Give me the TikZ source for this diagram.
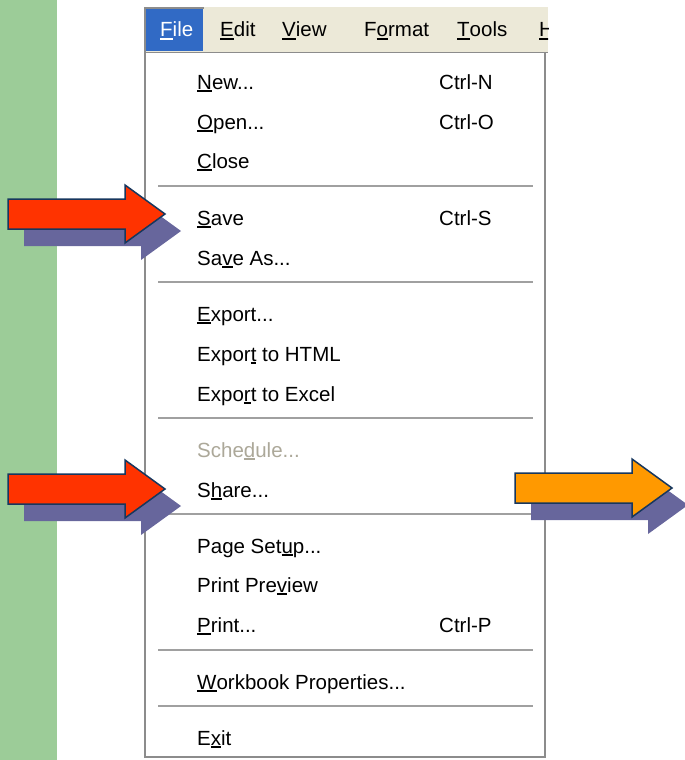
\documentclass[tikz,border=0pt]{standalone}
\usepackage{fontspec}
\setmainfont{Liberation Sans}
\definecolor{stripgreen}{HTML}{9CCC98}
\definecolor{barbeige}{HTML}{ECE9D8}
\definecolor{xpblue}{HTML}{316AC5}
\definecolor{sepgray}{HTML}{A0A0A0}
\definecolor{bordergray}{HTML}{8C8C8C}
\definecolor{shadowcol}{HTML}{67669C}
\definecolor{arrowred}{HTML}{FF3300}
\definecolor{arroworange}{HTML}{FF9900}
\definecolor{arrowedge}{HTML}{17375E}
\definecolor{disabledgray}{HTML}{ACA899}
\newcommand\mn[1]{\setbox0\hbox{#1}\rlap{\rule[-2.6pt]{\wd0}{1.2pt}}\box0\relax}
\tikzset{
  menutext/.style={anchor=base west, inner sep=0pt, font=\fontsize{20.5}{24}\selectfont, text=black},
  sepline/.style={draw=sepgray, line width=2pt},
  pics/bigarrow/.style={code={
    \fill[shadowcol, shift={(16,17)}] (-157,-15) -- (-40,-15) -- (-40,-29) -- (0,0) -- (-40,29) -- (-40,15) -- (-157,15) -- cycle;
    \filldraw[draw=arrowedge, line width=1.5pt, line join=miter, fill=#1] (-157,-15) -- (-40,-15) -- (-40,-29) -- (0,0) -- (-40,29) -- (-40,15) -- (-157,15) -- cycle;
  }}
}
\begin{document}
\begin{tikzpicture}[x=1pt,y=-1pt]
\useasboundingbox (0,0) rectangle (685,760);
\clip (0,0) rectangle (685,760);
% green strip
\fill[stripgreen] (0,0) rectangle (57,760);
% menu bar
\fill[barbeige] (144,7) rectangle (548,52);
\fill[xpblue] (146,9) rectangle (203,51);
\draw[bordergray, line width=2pt] (145,52) -- (145,8) -- (204,8);
\draw[bordergray, line width=1.5pt] (144,52.5) -- (548,52.5);
\begin{scope}
\clip (144,7) rectangle (548,52);
\node[menutext, text=white] (m-file) at (160,37) {\mn{F}ile};
\node[menutext] (m-edit) at (220,37) {\mn{E}dit};
\node[menutext] (m-view) at (282,37) {\mn{V}iew};
\node[menutext] (m-format) at (364,37) {F\mn{o}rmat};
\node[menutext] (m-tools) at (457,37) {\mn{T}ools};
\node[menutext] (m-help) at (539,37) {\mn{H}elp};
\end{scope}
% dropdown
\fill[white] (144,53) rectangle (546,758);
\draw[bordergray, line width=2pt] (145,53) -- (145,757) -- (545,757) -- (545,53);
% items
\node[menutext] (i-new) at (197,89) {\mn{N}ew...};
\node[menutext] (k-new) at (439,89) {Ctrl-N};
\node[menutext] (i-open) at (197,129) {\mn{O}pen...};
\node[menutext] (k-open) at (439,129) {Ctrl-O};
\node[menutext] (i-close) at (197,168) {\mn{C}lose};
\draw[sepline] (158,186) -- (533,186);
\node[menutext] (i-save) at (197,225) {\mn{S}ave};
\node[menutext] (k-save) at (439,225) {Ctrl-S};
\node[menutext] (i-saveas) at (197,265) {Sa\mn{v}e As...};
\draw[sepline] (158,282) -- (533,282);
\node[menutext] (i-export) at (197,321) {\mn{E}xport...};
\node[menutext] (i-html) at (197,361) {Expor\mn{t} to HTML};
\node[menutext] (i-excel) at (197,401) {Expo\mn{r}t to Excel};
\draw[sepline] (158,418) -- (533,418);
\node[menutext, text=disabledgray] (i-sched) at (197,457) {Sche\mn{d}ule...};
\node[menutext] (i-share) at (197,497) {S\mn{h}are...};
\draw[sepline] (158,514) -- (533,514);
\node[menutext] (i-setup) at (197,553) {Page Set\mn{u}p...};
\node[menutext] (i-preview) at (197,592) {Print Pre\mn{v}iew};
\node[menutext] (i-print) at (197,632) {\mn{P}rint...};
\node[menutext] (k-print) at (439,632) {Ctrl-P};
\draw[sepline] (158,650) -- (533,650);
\node[menutext] (i-props) at (197,689) {\mn{W}orkbook Properties...};
\draw[sepline] (158,706) -- (533,706);
\node[menutext] (i-exit) at (197,745) {E\mn{x}it};
% arrows
\pic (a-save) at (165,214) {bigarrow=arrowred};
\pic (a-share) at (165,489) {bigarrow=arrowred};
\pic (a-next) at (672,488) {bigarrow=arroworange};
\end{tikzpicture}
\end{document}
